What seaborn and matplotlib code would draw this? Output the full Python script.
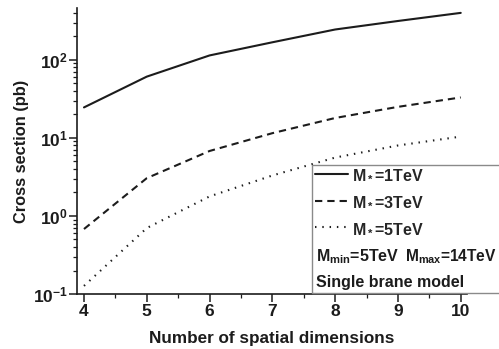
import matplotlib
matplotlib.use("Agg")
import matplotlib.pyplot as plt
from matplotlib.patches import Rectangle
import numpy as np
import pandas as pd
import seaborn as sns

# Cross sections versus number of spatial dimensions
dimensions = [4, 5, 6, 7, 8, 9, 10]
xsec_m1 = [24.6, 61, 114, 168, 245, 315, 400]
xsec_m3 = [0.68, 3.05, 6.8, 11.5, 18, 25, 33]
xsec_m5 = [0.127, 0.70, 1.78, 3.3, 5.6, 8.0, 10.4]
series_labels = ["M$_*$=1TeV", "M$_*$=3TeV", "M$_*$=5TeV"]
y_tick_values = [0.1, 1, 10, 100]
y_tick_labels = ["$10^{-1}$", "$10^{0}$", "$10^{1}$", "$10^{2}$"]
x_tick_values = [4, 5, 6, 7, 8, 9, 10]

df = pd.DataFrame({
    "dim": dimensions * 3,
    "xsec": xsec_m1 + xsec_m3 + xsec_m5,
    "series": [series_labels[0]] * 7 + [series_labels[1]] * 7 + [series_labels[2]] * 7,
})

sns.set_style("ticks")
plt.rcParams.update({
    "font.family": ["Liberation Sans", "DejaVu Sans"],
    "font.weight": "bold",
    "axes.labelweight": "bold",
    "mathtext.fontset": "custom",
    "mathtext.rm": "Liberation Sans",
    "mathtext.bf": "Liberation Sans:bold",
    "mathtext.it": "Liberation Sans:italic",
    "mathtext.default": "bf",
})

ink = "#1c1c1c"
fig = plt.figure(figsize=(4.99, 3.49), dpi=100)
ax = fig.add_axes([76.7 / 499, 1 - 294 / 349, 390 / 499, 286 / 349])

dash_styles = {
    series_labels[0]: "",
    series_labels[1]: (3.5, 2.4),
    series_labels[2]: (0.7, 2.8),
}
sns.lineplot(data=df, x="dim", y="xsec", style="series", dashes=dash_styles,
             color=ink, linewidth=1.5, legend=False, ax=ax, sort=False)

ax.set_yscale("log")
ax.set_ylim(0.1, 462)
ax.set_xlim(3.884, 10.095)
ax.set_xticks(x_tick_values)
ax.set_xticks(np.arange(4.5, 10, 1.0), minor=True)
ax.set_yticks(y_tick_values)
ax.set_yticklabels(y_tick_labels)
ax.set_xticklabels([str(v) for v in x_tick_values])

for side in ("top", "right"):
    ax.spines[side].set_visible(False)
for side in ("left", "bottom"):
    ax.spines[side].set_linewidth(1.2)
    ax.spines[side].set_color(ink)

ax.tick_params(which="major", direction="out", length=5.5, width=1.1, color=ink,
               labelsize=12.5, labelcolor=ink)
ax.tick_params(axis="y", which="major", pad=1)
ax.tick_params(axis="x", which="major", pad=2)
ax.tick_params(which="minor", direction="out", length=3, width=0.9, color=ink)

ax.set_xlabel("Number of spatial dimensions", fontsize=12.3, color=ink, labelpad=8.5)
ax.set_ylabel("Cross section (pb)", fontsize=11.8, color=ink, labelpad=2.5)

# Legend for the three curves, boxed together with the model notes
handles = ax.get_lines()[:3]
fig.legend(handles, series_labels, loc="upper left",
           bbox_to_anchor=(313 / 499, 1 - 165 / 349), frameon=False,
           fontsize=11.5, handlelength=2.05, handletextpad=0.25,
           borderpad=0.15, borderaxespad=0, labelspacing=0.74)
fig.text(315.7 / 499, 1 - 257 / 349, "M$_{\\mathrm{min}}$=5TeV",
         fontsize=11.5, color=ink, va="center", ha="left")
fig.text(496.5 / 499, 1 - 257 / 349, "M$_{\\mathrm{max}}$=14TeV",
         fontsize=11.2, color=ink, va="center", ha="right")
fig.text(315.7 / 499, 1 - 283 / 349, "Single brane model",
         fontsize=11.5, color=ink, va="center", ha="left")
fig.patches.append(Rectangle((311.7 / 499, 1 - 292.5 / 349),
                             0.5, (292.5 - 165) / 349,
                             transform=fig.transFigure, fill=False,
                             edgecolor="#8a8a8a", linewidth=1.0))

fig.savefig("out.png", dpi=100)
